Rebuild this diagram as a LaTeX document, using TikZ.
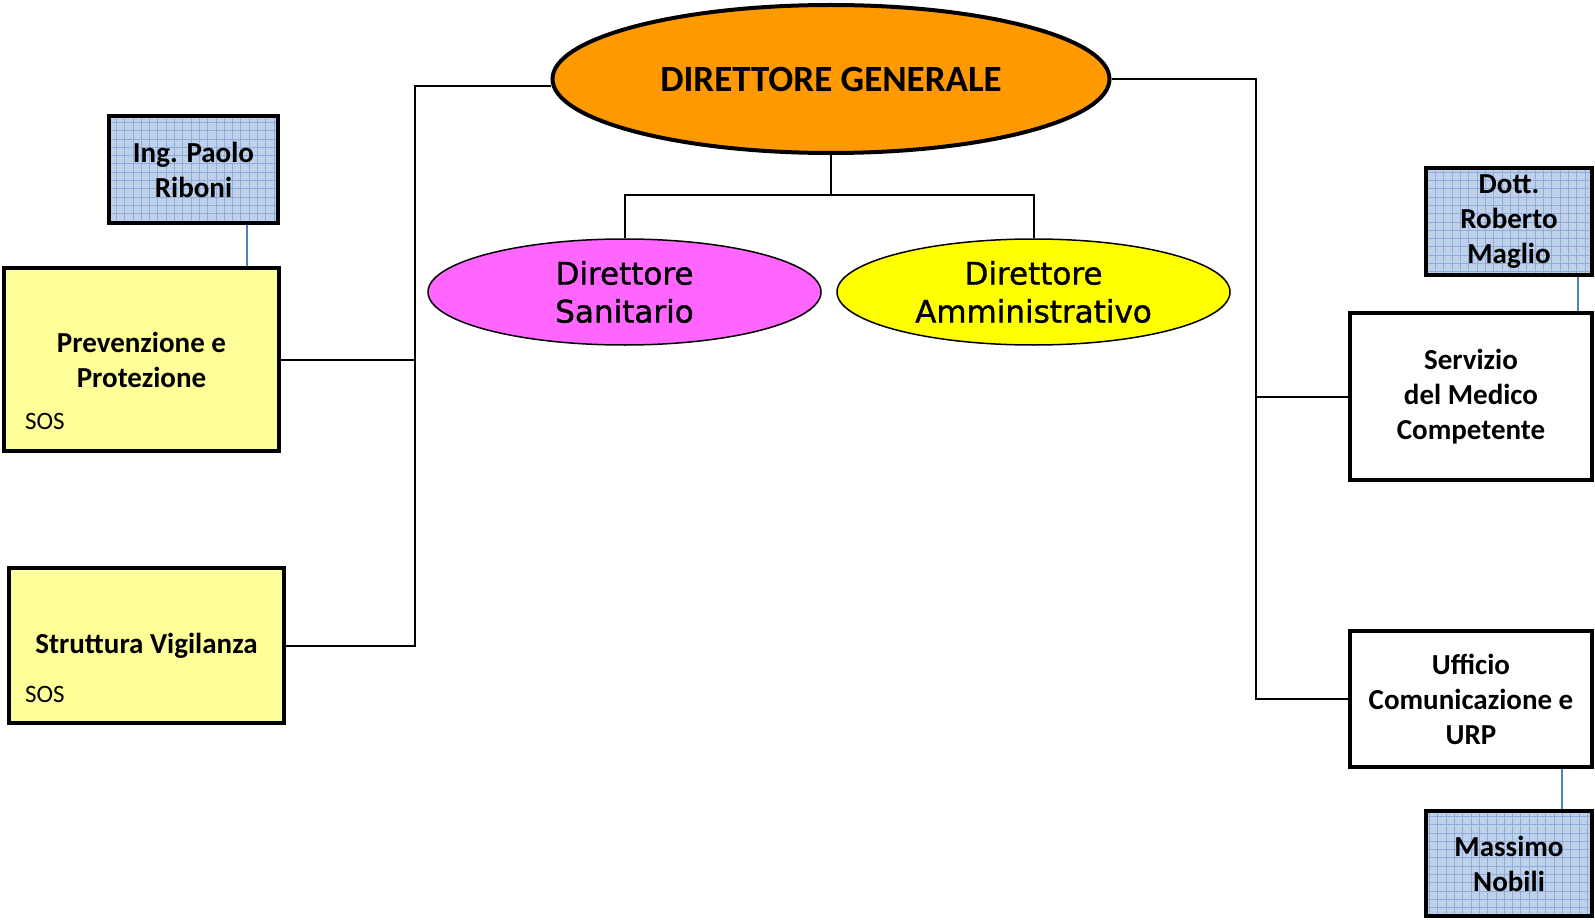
\documentclass[tikz,border=0pt]{standalone}
\usepackage{fontspec}
\setmainfont{Carlito}
\newfontfamily\ellfont[FakeBold=1.2]{DejaVu Sans}
\usetikzlibrary{shapes.geometric,calc}
\definecolor{dgorange}{HTML}{FF9900}
\definecolor{dsmag}{HTML}{FF66FF}
\definecolor{dayel}{HTML}{FFFF00}
\definecolor{paleyel}{HTML}{FFFF99}
\definecolor{bluefill}{HTML}{BFD1EA}
\definecolor{bluegrid}{HTML}{8FADDB}
\definecolor{blueline}{HTML}{4F81BD}
\tikzset{
  conn/.style={line width=2pt, black},
  bconn/.style={line width=2pt, blueline},
  bigell/.style={ellipse, draw, line width=4pt, fill=dgorange, inner sep=0pt,
    font=\bfseries\fontsize{37}{44}\selectfont},
  smallell/.style={ellipse, draw, line width=1.5pt, inner sep=0pt, align=center,
    font=\ellfont\fontsize{31}{38}\selectfont},
  box/.style={rectangle, draw, line width=4pt, inner sep=0pt, align=center,
    font=\bfseries\fontsize{29}{35}\selectfont},
  yelbox/.style={box, fill=paleyel},
  whitebox/.style={box, fill=white},
  bluebox/.style={box, fill=bluefill,
    path picture={\draw[bluegrid, line width=0.8pt]
      (path picture bounding box.south west) grid[step=8.3pt]
      (path picture bounding box.north east);}},
  sostext/.style={anchor=west, inner sep=0pt, font=\fontsize{25}{30}\selectfont},
}
\begin{document}
\begin{tikzpicture}[x=1pt,y=-1pt]
\useasboundingbox (0,0) rectangle (1595,920);

% main ellipses
\node[bigell, minimum width=557pt, minimum height=148pt] (dg) at (831,79) {DIRETTORE GENERALE};
\node[smallell, fill=dsmag, minimum width=393pt, minimum height=106pt] (ds) at (624.5,292) {Direttore\\Sanitario};
\node[smallell, fill=dayel, minimum width=393pt, minimum height=106pt] (da) at (1033.5,292) {Direttore\\Amministrativo};

% left boxes
\node[bluebox, minimum width=169pt, minimum height=107pt] (ing) at (193.5,169.5) {Ing. Paolo\\Riboni};
\node[yelbox, minimum width=275pt, minimum height=183pt] (prev) at (141.5,359.5) {Prevenzione e\\Protezione};
\node[sostext] (sos1) at (25,421) {SOS};
\node[yelbox, minimum width=275pt, minimum height=155pt] (strut) at (146.5,645.5) {Struttura Vigilanza};
\node[sostext] (sos2) at (25,694) {SOS};

% right boxes
\node[bluebox, minimum width=166pt, minimum height=107pt] (dott) at (1509,221.5) {Dott.\\Roberto\\Maglio};
\node[whitebox, minimum width=242pt, minimum height=167pt] (serv) at (1471,396.5) {Servizio\\del Medico\\Competente};
\node[whitebox, minimum width=242pt, minimum height=136pt] (uff) at (1471,699) {Ufficio\\Comunicazione e\\URP};
\node[bluebox, minimum width=166pt, minimum height=105pt] (mass) at (1509,863.5) {Massimo\\Nobili};

% trunk coordinates
\coordinate (lt) at (415,86);
\coordinate (rt) at (1256,79);
\coordinate (bus) at (831,195);

% connectors
\draw[conn] ([yshift=-7pt]dg.west) -- (lt) |- (strut.east);
\draw[conn] (prev.east) -- (prev.east -| lt);
\draw[conn] (dg.east) -- (rt) |- (uff.west);
\draw[conn] (serv.west) -- (serv.west -| rt);
\draw[conn] (dg.south) -- (bus);
\draw[conn] (ds.north) |- (bus) -| (da.north);

\draw[bconn] ([xshift=53.5pt]ing.south) -- ([xshift=53.5pt]ing.south |- prev.north);
\draw[bconn] ([xshift=69pt]dott.south) -- ([xshift=69pt]dott.south |- serv.north);
\draw[bconn] ([xshift=53pt]mass.north) -- ([xshift=53pt]mass.north |- uff.south);
\end{tikzpicture}
\end{document}
